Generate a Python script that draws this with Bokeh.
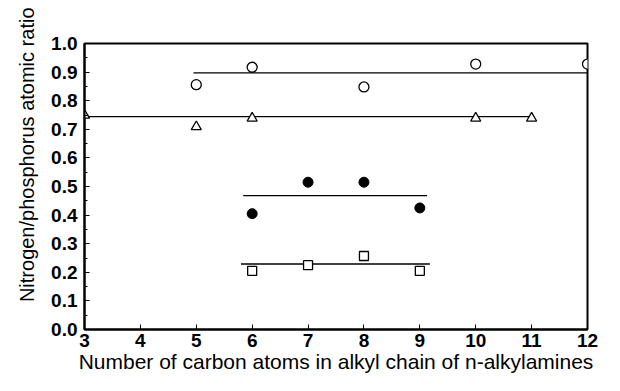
from bokeh.plotting import figure
from bokeh.models import Range1d, FixedTicker, PrintfTickFormatter, Title
from bokeh.embed import file_html
from bokeh.resources import INLINE

# Data
open_circle_x = [5, 6, 8, 10, 12]
open_circle_y = [0.856, 0.917, 0.848, 0.928, 0.928]
triangle_x = [3, 5, 6, 10, 11]
triangle_y = [0.749, 0.709, 0.739, 0.739, 0.739]
filled_circle_x = [6, 7, 8, 9]
filled_circle_y = [0.405, 0.515, 0.515, 0.425]
square_x = [6, 7, 8, 9]
square_y = [0.205, 0.225, 0.257, 0.205]

# Mean (fit) lines: start x, end x, level
fit_x0 = [4.95, 3.0, 5.84, 5.8]
fit_x1 = [12.0, 11.0, 9.13, 9.18]
fit_y = [0.897, 0.744, 0.468, 0.229]

x_ticks = [3, 4, 5, 6, 7, 8, 9, 10, 11, 12]
y_ticks = [0.0, 0.1, 0.2, 0.3, 0.4, 0.5, 0.6, 0.7, 0.8, 0.9, 1.0]

p = figure(width=604, height=375, output_backend="svg", toolbar_location=None,
           x_range=Range1d(3, 12), y_range=Range1d(0, 1.0),
           min_border_left=84, min_border_right=17, min_border_top=43, min_border_bottom=46)
p.background_fill_color = "white"
p.border_fill_color = "white"
p.grid.visible = False
p.outline_line_color = "black"
p.outline_line_width = 2

p.segment(x0=fit_x0, y0=fit_y, x1=fit_x1, y1=fit_y, line_color="black", line_width=1.3)

p.scatter(open_circle_x, open_circle_y, marker="circle", size=10, fill_color="white",
          line_color="black", line_width=1.3)
p.scatter(triangle_x, triangle_y, marker="triangle", size=10, fill_color="white",
          line_color="black", line_width=1.3)
p.scatter(filled_circle_x, filled_circle_y, marker="circle", size=10, fill_color="black",
          line_color="black")
p.scatter(square_x, square_y, marker="square", size=9, fill_color="white",
          line_color="black", line_width=1.3)

for ax in (p.xaxis[0], p.yaxis[0]):
    ax.axis_line_width = 2
    ax.axis_line_color = "black"
    ax.major_tick_in = 5
    ax.major_tick_out = 0
    ax.minor_tick_in = 3
    ax.minor_tick_out = 0
    ax.major_label_text_font = "Liberation Sans"
    ax.major_label_text_font_size = "19px"
    ax.major_label_text_font_style = "bold"
    ax.major_label_text_color = "black"
    ax.axis_label_text_font = "Liberation Sans"
    ax.axis_label_text_font_size = "21px"
    ax.axis_label_text_font_style = "normal"
    ax.axis_label_text_color = "black"

p.xaxis[0].ticker = FixedTicker(ticks=x_ticks)
p.yaxis[0].ticker = FixedTicker(ticks=y_ticks, minor_ticks=[0.05 + 0.1 * i for i in range(10)])
p.yaxis[0].formatter = PrintfTickFormatter(format="%.1f")
p.xaxis[0].axis_label = "Number of carbon atoms in alkyl chain of n-alkylamines"
p.xaxis[0].major_label_standoff = 4
p.yaxis[0].major_label_standoff = 7
p.xaxis[0].axis_label_standoff = 0

ytitle = Title(text="Nitrogen/phosphorus atomic ratio", align="right", offset=-36,
               standoff=22,
               text_font="Liberation Sans", text_font_size="20px",
               text_font_style="normal", text_color="black")
p.add_layout(ytitle, "left")

open("out.html", "w").write(file_html(p, INLINE))
